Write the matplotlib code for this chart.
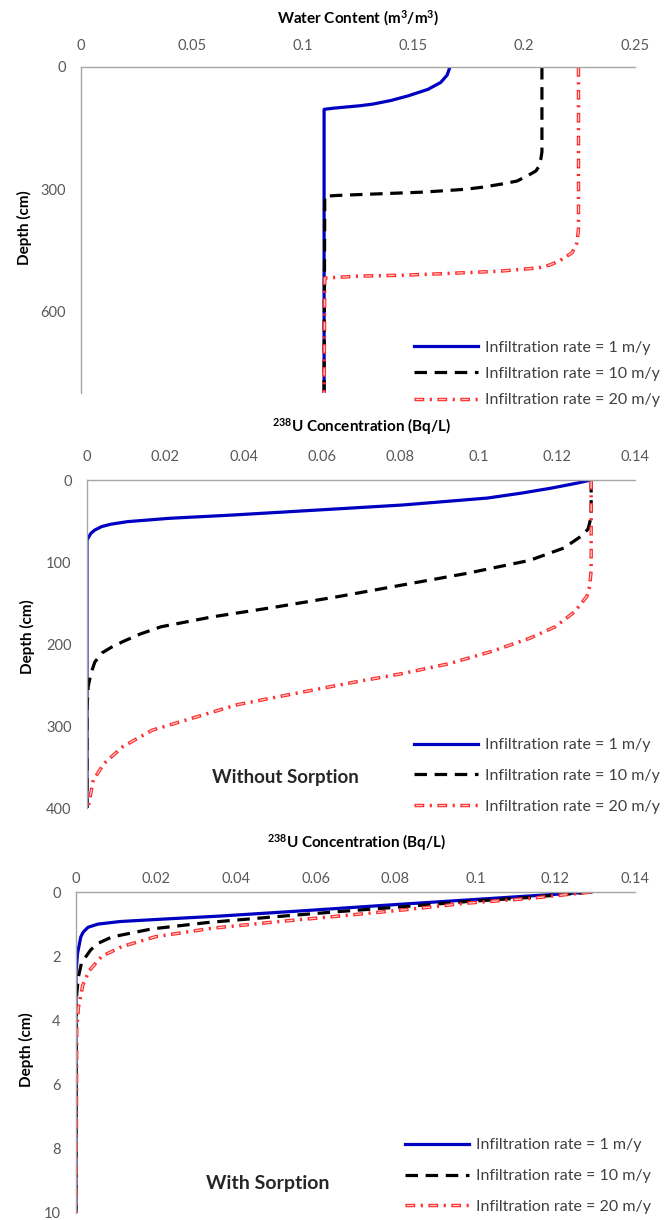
import matplotlib
matplotlib.use("Agg")
import matplotlib.pyplot as plt
from matplotlib.ticker import MultipleLocator, FuncFormatter

plt.rcParams["font.family"] = ["Lato", "DejaVu Sans"]
plt.rcParams["mathtext.default"] = "regular"
plt.rcParams["lines.scale_dashes"] = False

W, H = 664, 1220

LEGEND_LABELS = ["Infiltration rate = 1 m/y",
                 "Infiltration rate = 10 m/y",
                 "Infiltration rate = 20 m/y"]

# --- panel 1: water content profiles (depth in cm) ---
wc_depth_1m = [0, 20, 38, 55, 71, 82, 91, 95, 98, 101, 103, 104, 800]
wc_1m = [0.1665, 0.1652, 0.1623, 0.1565, 0.1475, 0.1400, 0.1317, 0.1260,
         0.1200, 0.1140, 0.1110, 0.1097, 0.1097]
wc_depth_10m = [0, 209, 226, 245, 255, 267, 280, 288, 295, 300, 307, 311,
                315, 317, 800]
wc_10m = [0.2080, 0.2080, 0.2075, 0.2065, 0.2053, 0.2015, 0.1967, 0.1890,
          0.1810, 0.1737, 0.1546, 0.1356, 0.1164, 0.1100, 0.1097]
wc_depth_20m = [0, 398, 431, 456, 476, 486, 493, 501, 507, 511, 513, 518, 800]
wc_20m = [0.2245, 0.2245, 0.2238, 0.2216, 0.2158, 0.2115, 0.2064, 0.1890,
          0.1640, 0.1451, 0.1260, 0.1100, 0.1097]

# --- panel 2: 238U without sorption (depth in cm) ---
ns_depth_1m = [0, 4, 10, 16, 22, 30.5, 36.6, 42.7, 46.7, 50.8, 54, 56.9,
               61, 65, 73, 400]
ns_1m = [0.1288, 0.1250, 0.1185, 0.1110, 0.1023, 0.0806, 0.0590, 0.0373,
         0.0211, 0.0103, 0.0060, 0.0037, 0.0020, 0.0010, 0.0, 0.0]
ns_depth_10m = [0, 45, 60, 69, 83, 98, 114, 128, 142, 155, 167, 179, 188,
                197, 204, 211, 222, 236, 252, 280, 400]
ns_10m = [0.1288, 0.1288, 0.1280, 0.1261, 0.1218, 0.1131, 0.0969, 0.0806,
          0.0644, 0.0481, 0.0319, 0.0189, 0.0135, 0.0092, 0.0062, 0.0038,
          0.0020, 0.0010, 0.0003, 0.0, 0.0]
ns_depth_20m = [0, 110, 130, 142, 161, 179, 193, 209, 224, 236, 248, 262,
                274, 291, 305, 325, 346, 366, 394, 400]
ns_20m = [0.1288, 0.1288, 0.1284, 0.1277, 0.1245, 0.1196, 0.1131, 0.1034,
          0.0925, 0.0806, 0.0666, 0.0514, 0.0384, 0.0265, 0.0167, 0.0092,
          0.0043, 0.0016, 0.0005, 0.0003]

# --- panel 3: 238U with sorption (depth in cm) ---
ws_depth_1m = [0, 0.2, 0.4, 0.6, 0.75, 0.85, 0.92, 1.0, 1.1, 1.25, 1.4,
               1.9, 2.5, 10]
ws_1m = [0.129, 0.104, 0.079, 0.055, 0.036, 0.021, 0.011, 0.0055, 0.003,
         0.0018, 0.0012, 0.0004, 0.0, 0.0]
ws_depth_10m = [0, 0.17, 0.30, 0.46, 0.61, 0.77, 0.95, 1.15, 1.4, 1.6, 1.8,
                2.2, 2.64, 3.3, 10]
ws_10m = [0.129, 0.1136, 0.0977, 0.0818, 0.0659, 0.050, 0.033, 0.019, 0.009,
          0.0055, 0.0037, 0.0014, 0.0006, 0.0001, 0.0]
ws_depth_20m = [0, 0.2, 0.35, 0.56, 0.75, 0.93, 1.13, 1.39, 1.7, 2.0, 2.45,
                2.9, 3.6, 4.3, 10]
ws_20m = [0.129, 0.1136, 0.0977, 0.0818, 0.0659, 0.050, 0.034, 0.020, 0.0115,
          0.0065, 0.0033, 0.0017, 0.0006, 0.0002, 0.0]

BLUE = "#0000C0"
RED = "#FF2B2B"
PINK = "#FFC8C8"
AXIS_GREY = "#A6A6A6"
TICK_GREY = "#595959"


def px_axes(fig, left, top, right, bottom):
    return fig.add_axes([left / W, 1 - bottom / H, (right - left) / W,
                         (bottom - top) / H])


def draw_profiles(ax, series):
    (d1, v1), (d2, v2), (d3, v3) = series
    h1, = ax.plot(v1, d1, color=BLUE, lw=2.3)
    h2, = ax.plot(v2, d2, color="black", lw=2.3, linestyle=(0, (9, 5.5)))
    # hollow-looking red dash-dot like the Excel rendering
    h3a, = ax.plot(v3, d3, color=RED, lw=2.5, linestyle=(0, (7, 4, 1.5, 4)))
    h3b, = ax.plot(v3, d3, color=PINK, lw=0.9, linestyle=(15.5, (5, 11.5)))
    return [h1, h2, (h3a, h3b)]


def style_axes(ax, xmax, xstep, ymax, ystep, xpad, ypad):
    ax.set_xlim(0, xmax)
    ax.set_ylim(ymax, 0)
    ax.xaxis.set_major_locator(MultipleLocator(xstep))
    ax.yaxis.set_major_locator(MultipleLocator(ystep))
    ax.xaxis.set_major_formatter(FuncFormatter(lambda v, _: f"{v:g}"))
    ax.xaxis.tick_top()
    ax.spines["right"].set_visible(False)
    ax.spines["bottom"].set_visible(False)
    for s in ("top", "left"):
        ax.spines[s].set_color(AXIS_GREY)
        ax.spines[s].set_linewidth(1.0)
    ax.tick_params(length=0, labelsize=10.5, labelcolor=TICK_GREY)
    ax.tick_params(axis="x", pad=xpad)
    ax.tick_params(axis="y", pad=ypad)


def add_legend(fig, ax, handles, x, y_mid, spacing):
    ax.legend(handles, LEGEND_LABELS, loc="center left",
              bbox_to_anchor=(x / W, 1 - y_mid / H),
              bbox_transform=fig.transFigure, frameon=False, fontsize=11.5,
              handlelength=4.0, handletextpad=0.45, labelspacing=spacing,
              borderpad=0, borderaxespad=0, labelcolor="#404040")


fig = plt.figure(figsize=(W / 100, H / 100), dpi=100)
fig.patch.set_facecolor("white")

# panel 1
ax1 = px_axes(fig, 81, 67, 635, 393)
h = draw_profiles(ax1, [(wc_depth_1m, wc_1m), (wc_depth_10m, wc_10m),
                        (wc_depth_20m, wc_20m)])
style_axes(ax1, 0.25, 0.05, 800, 300, xpad=10, ypad=11)
add_legend(fig, ax1, h, 414, 374, 0.75)
fig.text(358 / W, 1 - 18.5 / H, "Water Content (m$^3$/m$^3$)",
         ha="center", va="center", fontsize=11, fontweight="bold")
fig.text(24 / W, 1 - 228 / H, "Depth (cm)", rotation=90, ha="center",
         va="center", fontsize=11, fontweight="bold")

# panel 2
ax2 = px_axes(fig, 87, 480, 635, 808)
h = draw_profiles(ax2, [(ns_depth_1m, ns_1m), (ns_depth_10m, ns_10m),
                        (ns_depth_20m, ns_20m)])
style_axes(ax2, 0.14, 0.02, 400, 100, xpad=11.5, ypad=11)
add_legend(fig, ax2, h, 414, 776, 1.05)
fig.text(361 / W, 1 - 427 / H, "$^{238}$U Concentration (Bq/L)",
         ha="center", va="center", fontsize=11, fontweight="bold")
fig.text(27 / W, 1 - 637 / H, "Depth (cm)", rotation=90, ha="center",
         va="center", fontsize=11, fontweight="bold")
ax2.text(285 / W, 1 - 778 / H, "Without Sorption", transform=fig.transFigure,
         ha="center", va="center", fontsize=13.5, fontweight="bold",
         color="#262626")

# panel 3
ax3 = px_axes(fig, 76, 892, 635, 1213)
h = draw_profiles(ax3, [(ws_depth_1m, ws_1m), (ws_depth_10m, ws_10m),
                        (ws_depth_20m, ws_20m)])
style_axes(ax3, 0.14, 0.02, 10, 2, xpad=4.5, ypad=11)
add_legend(fig, ax3, h, 405, 1176, 1.05)
fig.text(356 / W, 1 - 843 / H, "$^{238}$U Concentration (Bq/L)",
         ha="center", va="center", fontsize=11, fontweight="bold")
fig.text(26 / W, 1 - 1050 / H, "Depth (cm)", rotation=90, ha="center",
         va="center", fontsize=11, fontweight="bold")
ax3.text(268 / W, 1 - 1183 / H, "With Sorption", transform=fig.transFigure,
         ha="center", va="center", fontsize=14, fontweight="bold",
         color="#262626")

fig.savefig("out.png", dpi=100, facecolor="white")
